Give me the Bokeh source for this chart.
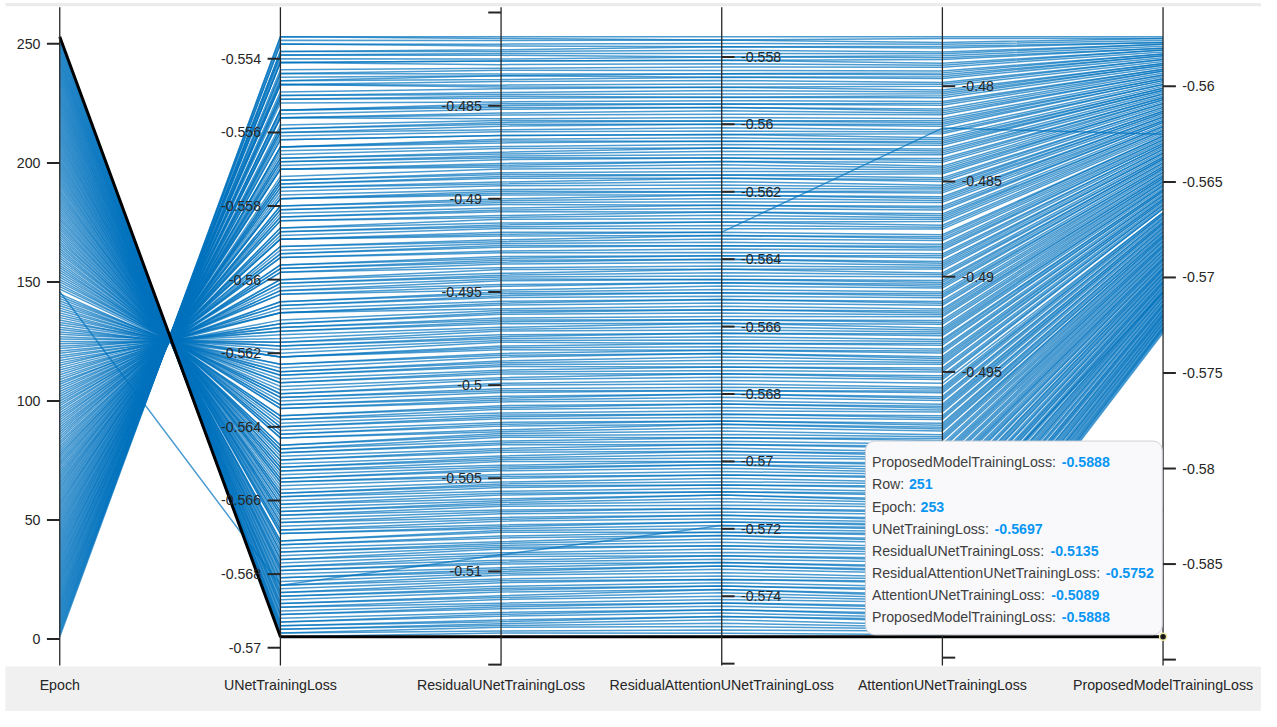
from bokeh.plotting import figure
from bokeh.models import Range1d
from bokeh.core.properties import value
from bokeh.embed import file_html
from bokeh.resources import INLINE

axis_names = ["Epoch", "UNetTrainingLoss", "ResidualUNetTrainingLoss",
              "ResidualAttentionUNetTrainingLoss", "AttentionUNetTrainingLoss",
              "ProposedModelTrainingLoss"]

epoch = list(range(1, 254))

unet_loss = [
    -0.5534, -0.5534, -0.5535, -0.5536, -0.5536, -0.5538, -0.5538, -0.5539, -0.5539, -0.5540,
    -0.5541, -0.5541, -0.5541, -0.5543, -0.5544, -0.5544, -0.5545, -0.5546, -0.5546, -0.5547,
    -0.5547, -0.5547, -0.5549, -0.5550, -0.5550, -0.5551, -0.5551, -0.5552, -0.5554, -0.5554,
    -0.5554, -0.5555, -0.5556, -0.5556, -0.5556, -0.5558, -0.5559, -0.5559, -0.5560, -0.5560,
    -0.5561, -0.5562, -0.5562, -0.5564, -0.5564, -0.5564, -0.5565, -0.5566, -0.5567, -0.5567,
    -0.5568, -0.5568, -0.5569, -0.5570, -0.5570, -0.5570, -0.5572, -0.5573, -0.5573, -0.5574,
    -0.5574, -0.5575, -0.5575, -0.5576, -0.5577, -0.5578, -0.5578, -0.5578, -0.5580, -0.5580,
    -0.5581, -0.5581, -0.5582, -0.5583, -0.5583, -0.5584, -0.5584, -0.5586, -0.5586, -0.5587,
    -0.5587, -0.5588, -0.5589, -0.5589, -0.5589, -0.5591, -0.5591, -0.5592, -0.5593, -0.5593,
    -0.5594, -0.5594, -0.5596, -0.5596, -0.5597, -0.5597, -0.5598, -0.5598, -0.5600, -0.5600,
    -0.5601, -0.5601, -0.5602, -0.5603, -0.5603, -0.5604, -0.5604, -0.5606, -0.5606, -0.5607,
    -0.5607, -0.5608, -0.5609, -0.5609, -0.5609, -0.5611, -0.5612, -0.5612, -0.5613, -0.5613,
    -0.5614, -0.5614, -0.5615, -0.5616, -0.5617, -0.5617, -0.5618, -0.5618, -0.5619, -0.5620,
    -0.5621, -0.5621, -0.5621, -0.5623, -0.5623, -0.5624, -0.5625, -0.5625, -0.5626, -0.5626,
    -0.5627, -0.5628, -0.5628, -0.5629, -0.5630, -0.5683, -0.5631, -0.5631, -0.5632, -0.5632,
    -0.5633, -0.5634, -0.5634, -0.5635, -0.5635, -0.5637, -0.5637, -0.5638, -0.5638, -0.5639,
    -0.5640, -0.5640, -0.5641, -0.5642, -0.5642, -0.5643, -0.5643, -0.5645, -0.5645, -0.5646,
    -0.5646, -0.5647, -0.5647, -0.5648, -0.5649, -0.5649, -0.5650, -0.5651, -0.5651, -0.5652,
    -0.5652, -0.5653, -0.5654, -0.5654, -0.5655, -0.5655, -0.5656, -0.5657, -0.5658, -0.5658,
    -0.5659, -0.5659, -0.5660, -0.5661, -0.5661, -0.5662, -0.5663, -0.5663, -0.5664, -0.5664,
    -0.5665, -0.5666, -0.5666, -0.5667, -0.5668, -0.5668, -0.5669, -0.5669, -0.5671, -0.5671,
    -0.5672, -0.5672, -0.5673, -0.5674, -0.5674, -0.5675, -0.5676, -0.5676, -0.5677, -0.5678,
    -0.5678, -0.5679, -0.5679, -0.5680, -0.5681, -0.5681, -0.5682, -0.5683, -0.5683, -0.5684,
    -0.5685, -0.5685, -0.5686, -0.5686, -0.5687, -0.5688, -0.5688, -0.5689, -0.5689, -0.5690,
    -0.5691, -0.5691, -0.5692, -0.5693, -0.5693, -0.5694, -0.5694, -0.5695, -0.5695, -0.5696,
    -0.5696, -0.5697, -0.5697,
]

resunet_loss = [
    -0.4813, -0.4814, -0.4815, -0.4817, -0.4818, -0.4820, -0.4821, -0.4822, -0.4823, -0.4825,
    -0.4826, -0.4826, -0.4828, -0.4830, -0.4831, -0.4833, -0.4834, -0.4834, -0.4836, -0.4837,
    -0.4839, -0.4840, -0.4841, -0.4843, -0.4844, -0.4845, -0.4846, -0.4848, -0.4849, -0.4850,
    -0.4851, -0.4852, -0.4854, -0.4855, -0.4857, -0.4858, -0.4859, -0.4860, -0.4861, -0.4863,
    -0.4864, -0.4866, -0.4866, -0.4868, -0.4869, -0.4870, -0.4872, -0.4873, -0.4875, -0.4876,
    -0.4877, -0.4878, -0.4879, -0.4881, -0.4882, -0.4883, -0.4884, -0.4886, -0.4887, -0.4888,
    -0.4889, -0.4891, -0.4892, -0.4893, -0.4895, -0.4896, -0.4897, -0.4898, -0.4900, -0.4901,
    -0.4902, -0.4903, -0.4905, -0.4906, -0.4907, -0.4909, -0.4910, -0.4911, -0.4913, -0.4914,
    -0.4915, -0.4916, -0.4918, -0.4919, -0.4920, -0.4922, -0.4923, -0.4924, -0.4925, -0.4926,
    -0.4928, -0.4929, -0.4931, -0.4932, -0.4933, -0.4934, -0.4935, -0.4937, -0.4938, -0.4940,
    -0.4941, -0.4942, -0.4943, -0.4944, -0.4946, -0.4947, -0.4949, -0.4950, -0.4951, -0.4952,
    -0.4953, -0.4955, -0.4956, -0.4957, -0.4959, -0.4960, -0.4961, -0.4962, -0.4964, -0.4965,
    -0.4966, -0.4967, -0.4969, -0.4970, -0.4971, -0.4973, -0.4974, -0.4975, -0.4976, -0.4977,
    -0.4979, -0.4980, -0.4981, -0.4983, -0.4984, -0.4985, -0.4987, -0.4988, -0.4989, -0.4990,
    -0.4992, -0.4993, -0.4994, -0.4996, -0.4997, -0.5091, -0.4999, -0.5000, -0.5002, -0.5003,
    -0.5004, -0.5006, -0.5007, -0.5008, -0.5009, -0.5011, -0.5012, -0.5013, -0.5015, -0.5016,
    -0.5017, -0.5018, -0.5020, -0.5021, -0.5022, -0.5024, -0.5025, -0.5026, -0.5027, -0.5028,
    -0.5030, -0.5031, -0.5032, -0.5034, -0.5035, -0.5036, -0.5038, -0.5039, -0.5040, -0.5041,
    -0.5043, -0.5044, -0.5045, -0.5046, -0.5048, -0.5049, -0.5050, -0.5052, -0.5053, -0.5054,
    -0.5055, -0.5057, -0.5058, -0.5059, -0.5061, -0.5062, -0.5063, -0.5064, -0.5065, -0.5067,
    -0.5068, -0.5069, -0.5071, -0.5072, -0.5073, -0.5075, -0.5076, -0.5077, -0.5078, -0.5079,
    -0.5081, -0.5082, -0.5084, -0.5085, -0.5086, -0.5087, -0.5088, -0.5090, -0.5091, -0.5092,
    -0.5094, -0.5095, -0.5096, -0.5098, -0.5099, -0.5100, -0.5101, -0.5102, -0.5104, -0.5105,
    -0.5106, -0.5108, -0.5109, -0.5110, -0.5111, -0.5113, -0.5114, -0.5115, -0.5117, -0.5118,
    -0.5119, -0.5120, -0.5122, -0.5123, -0.5124, -0.5126, -0.5127, -0.5128, -0.5129, -0.5130,
    -0.5132, -0.5133, -0.5135,
]

resattn_loss = [
    -0.5574, -0.5575, -0.5575, -0.5576, -0.5577, -0.5577, -0.5578, -0.5579, -0.5580, -0.5580,
    -0.5581, -0.5581, -0.5582, -0.5583, -0.5584, -0.5585, -0.5585, -0.5586, -0.5586, -0.5587,
    -0.5588, -0.5589, -0.5589, -0.5590, -0.5591, -0.5592, -0.5592, -0.5593, -0.5594, -0.5594,
    -0.5595, -0.5595, -0.5596, -0.5597, -0.5598, -0.5599, -0.5599, -0.5600, -0.5600, -0.5601,
    -0.5602, -0.5603, -0.5603, -0.5604, -0.5605, -0.5605, -0.5606, -0.5607, -0.5607, -0.5608,
    -0.5609, -0.5610, -0.5610, -0.5611, -0.5611, -0.5612, -0.5613, -0.5614, -0.5615, -0.5615,
    -0.5616, -0.5616, -0.5617, -0.5618, -0.5619, -0.5620, -0.5620, -0.5621, -0.5621, -0.5622,
    -0.5623, -0.5624, -0.5624, -0.5625, -0.5626, -0.5626, -0.5627, -0.5628, -0.5629, -0.5629,
    -0.5630, -0.5631, -0.5632, -0.5632, -0.5633, -0.5633, -0.5634, -0.5635, -0.5636, -0.5636,
    -0.5637, -0.5638, -0.5639, -0.5639, -0.5640, -0.5640, -0.5641, -0.5642, -0.5643, -0.5643,
    -0.5644, -0.5645, -0.5646, -0.5646, -0.5647, -0.5647, -0.5648, -0.5649, -0.5650, -0.5650,
    -0.5651, -0.5652, -0.5652, -0.5653, -0.5654, -0.5655, -0.5655, -0.5656, -0.5657, -0.5658,
    -0.5658, -0.5659, -0.5659, -0.5660, -0.5661, -0.5662, -0.5662, -0.5663, -0.5664, -0.5665,
    -0.5665, -0.5666, -0.5667, -0.5667, -0.5668, -0.5668, -0.5669, -0.5670, -0.5671, -0.5672,
    -0.5672, -0.5673, -0.5674, -0.5674, -0.5675, -0.5719, -0.5676, -0.5677, -0.5678, -0.5679,
    -0.5679, -0.5680, -0.5680, -0.5681, -0.5682, -0.5683, -0.5683, -0.5684, -0.5685, -0.5686,
    -0.5686, -0.5687, -0.5688, -0.5688, -0.5689, -0.5689, -0.5690, -0.5691, -0.5692, -0.5693,
    -0.5693, -0.5694, -0.5695, -0.5695, -0.5696, -0.5697, -0.5697, -0.5698, -0.5699, -0.5700,
    -0.5700, -0.5701, -0.5701, -0.5702, -0.5703, -0.5704, -0.5704, -0.5705, -0.5706, -0.5707,
    -0.5707, -0.5708, -0.5709, -0.5709, -0.5710, -0.5710, -0.5711, -0.5712, -0.5713, -0.5714,
    -0.5714, -0.5715, -0.5716, -0.5716, -0.5717, -0.5718, -0.5718, -0.5719, -0.5720, -0.5721,
    -0.5721, -0.5722, -0.5722, -0.5723, -0.5724, -0.5725, -0.5725, -0.5726, -0.5727, -0.5728,
    -0.5728, -0.5729, -0.5730, -0.5730, -0.5731, -0.5731, -0.5732, -0.5733, -0.5734, -0.5735,
    -0.5735, -0.5736, -0.5737, -0.5737, -0.5738, -0.5738, -0.5739, -0.5740, -0.5741, -0.5742,
    -0.5742, -0.5743, -0.5744, -0.5744, -0.5745, -0.5746, -0.5746, -0.5747, -0.5748, -0.5749,
    -0.5750, -0.5751, -0.5752,
]

attn_loss = [
    -0.4774, -0.4775, -0.4777, -0.4778, -0.4779, -0.4780, -0.4782, -0.4783, -0.4784, -0.4785,
    -0.4786, -0.4788, -0.4789, -0.4790, -0.4792, -0.4793, -0.4794, -0.4795, -0.4796, -0.4798,
    -0.4799, -0.4800, -0.4802, -0.4803, -0.4804, -0.4805, -0.4806, -0.4808, -0.4809, -0.4810,
    -0.4812, -0.4813, -0.4814, -0.4815, -0.4817, -0.4818, -0.4819, -0.4820, -0.4821, -0.4823,
    -0.4824, -0.4825, -0.4827, -0.4828, -0.4829, -0.4830, -0.4831, -0.4833, -0.4834, -0.4835,
    -0.4836, -0.4838, -0.4839, -0.4840, -0.4842, -0.4843, -0.4844, -0.4845, -0.4846, -0.4848,
    -0.4849, -0.4850, -0.4852, -0.4853, -0.4854, -0.4855, -0.4856, -0.4858, -0.4859, -0.4860,
    -0.4861, -0.4863, -0.4864, -0.4865, -0.4867, -0.4868, -0.4869, -0.4870, -0.4871, -0.4873,
    -0.4874, -0.4875, -0.4822, -0.4878, -0.4879, -0.4880, -0.4881, -0.4883, -0.4884, -0.4885,
    -0.4886, -0.4888, -0.4889, -0.4890, -0.4892, -0.4893, -0.4894, -0.4895, -0.4896, -0.4898,
    -0.4899, -0.4900, -0.4902, -0.4903, -0.4904, -0.4905, -0.4906, -0.4908, -0.4909, -0.4910,
    -0.4911, -0.4913, -0.4914, -0.4915, -0.4917, -0.4918, -0.4919, -0.4920, -0.4921, -0.4923,
    -0.4924, -0.4925, -0.4927, -0.4928, -0.4929, -0.4930, -0.4931, -0.4933, -0.4934, -0.4935,
    -0.4936, -0.4938, -0.4939, -0.4940, -0.4942, -0.4943, -0.4944, -0.4945, -0.4946, -0.4948,
    -0.4949, -0.4950, -0.4952, -0.4953, -0.4954, -0.5032, -0.4956, -0.4958, -0.4959, -0.4960,
    -0.4961, -0.4963, -0.4964, -0.4965, -0.4967, -0.4968, -0.4969, -0.4970, -0.4971, -0.4973,
    -0.4974, -0.4975, -0.4977, -0.4978, -0.4979, -0.4980, -0.4981, -0.4983, -0.4984, -0.4985,
    -0.4986, -0.4988, -0.4989, -0.4990, -0.4992, -0.4993, -0.4994, -0.4995, -0.4996, -0.4998,
    -0.4999, -0.5000, -0.5002, -0.5003, -0.5004, -0.5005, -0.5006, -0.5008, -0.5009, -0.5010,
    -0.5011, -0.5013, -0.5014, -0.5015, -0.5017, -0.5018, -0.5019, -0.5020, -0.5021, -0.5023,
    -0.5024, -0.5025, -0.5027, -0.5028, -0.5029, -0.5030, -0.5031, -0.5033, -0.5034, -0.5035,
    -0.5036, -0.5038, -0.5039, -0.5040, -0.5042, -0.5043, -0.5044, -0.5045, -0.5046, -0.5048,
    -0.5049, -0.5050, -0.5052, -0.5053, -0.5054, -0.5055, -0.5056, -0.5058, -0.5059, -0.5060,
    -0.5061, -0.5063, -0.5064, -0.5065, -0.5067, -0.5068, -0.5069, -0.5070, -0.5071, -0.5073,
    -0.5074, -0.5075, -0.5077, -0.5078, -0.5079, -0.5080, -0.5081, -0.5083, -0.5084, -0.5085,
    -0.5086, -0.5088, -0.5089,
]

proposed_loss = [
    -0.5574, -0.5575, -0.5575, -0.5576, -0.5577, -0.5577, -0.5578, -0.5578, -0.5579, -0.5580,
    -0.5580, -0.5581, -0.5581, -0.5582, -0.5583, -0.5583, -0.5584, -0.5584, -0.5585, -0.5586,
    -0.5586, -0.5587, -0.5588, -0.5588, -0.5589, -0.5589, -0.5590, -0.5591, -0.5591, -0.5592,
    -0.5592, -0.5593, -0.5594, -0.5594, -0.5595, -0.5596, -0.5596, -0.5597, -0.5597, -0.5598,
    -0.5599, -0.5599, -0.5600, -0.5601, -0.5601, -0.5602, -0.5602, -0.5603, -0.5604, -0.5604,
    -0.5605, -0.5606, -0.5606, -0.5607, -0.5607, -0.5608, -0.5609, -0.5609, -0.5610, -0.5611,
    -0.5611, -0.5612, -0.5613, -0.5613, -0.5614, -0.5614, -0.5615, -0.5616, -0.5616, -0.5617,
    -0.5618, -0.5618, -0.5619, -0.5619, -0.5620, -0.5621, -0.5621, -0.5622, -0.5623, -0.5623,
    -0.5624, -0.5625, -0.5625, -0.5626, -0.5626, -0.5627, -0.5628, -0.5628, -0.5629, -0.5630,
    -0.5630, -0.5631, -0.5631, -0.5632, -0.5633, -0.5633, -0.5634, -0.5635, -0.5635, -0.5636,
    -0.5637, -0.5637, -0.5638, -0.5638, -0.5639, -0.5640, -0.5640, -0.5641, -0.5642, -0.5642,
    -0.5643, -0.5643, -0.5644, -0.5645, -0.5645, -0.5646, -0.5647, -0.5647, -0.5648, -0.5648,
    -0.5649, -0.5650, -0.5650, -0.5651, -0.5652, -0.5652, -0.5653, -0.5654, -0.5654, -0.5655,
    -0.5655, -0.5656, -0.5657, -0.5657, -0.5658, -0.5659, -0.5659, -0.5660, -0.5660, -0.5661,
    -0.5662, -0.5662, -0.5663, -0.5664, -0.5664, -0.5708, -0.5666, -0.5666, -0.5667, -0.5667,
    -0.5668, -0.5669, -0.5669, -0.5670, -0.5671, -0.5671, -0.5672, -0.5672, -0.5673, -0.5674,
    -0.5674, -0.5675, -0.5676, -0.5676, -0.5677, -0.5678, -0.5678, -0.5679, -0.5679, -0.5680,
    -0.5681, -0.5681, -0.5682, -0.5683, -0.5683, -0.5684, -0.5684, -0.5685, -0.5686, -0.5686,
    -0.5687, -0.5688, -0.5688, -0.5689, -0.5690, -0.5690, -0.5691, -0.5691, -0.5692, -0.5693,
    -0.5693, -0.5694, -0.5695, -0.5695, -0.5696, -0.5696, -0.5697, -0.5698, -0.5698, -0.5699,
    -0.5700, -0.5700, -0.5701, -0.5702, -0.5702, -0.5703, -0.5703, -0.5704, -0.5705, -0.5705,
    -0.5706, -0.5707, -0.5707, -0.5708, -0.5708, -0.5709, -0.5710, -0.5710, -0.5711, -0.5712,
    -0.5712, -0.5713, -0.5714, -0.5714, -0.5715, -0.5715, -0.5716, -0.5717, -0.5717, -0.5718,
    -0.5719, -0.5719, -0.5720, -0.5720, -0.5721, -0.5722, -0.5722, -0.5723, -0.5724, -0.5724,
    -0.5725, -0.5726, -0.5726, -0.5727, -0.5727, -0.5728, -0.5729,
    -0.5800, -0.5822, -0.5841, -0.5857, -0.5872, -0.5888,
]

highlight_epoch = 253

# tick values and labels per axis
epoch_ticks = [250, 200, 150, 100, 50, 0]
epoch_tick_labels = ["250", "200", "150", "100", "50", "0"]
unet_ticks = [-0.554, -0.556, -0.558, -0.560, -0.562, -0.564, -0.566, -0.568, -0.570]
unet_tick_labels = ["-0.554", "-0.556", "-0.558", "-0.56", "-0.562", "-0.564", "-0.566", "-0.568", "-0.57"]
resunet_ticks = [-0.485, -0.490, -0.495, -0.500, -0.505, -0.510]
resunet_tick_labels = ["-0.485", "-0.49", "-0.495", "-0.5", "-0.505", "-0.51"]
resattn_ticks = [-0.558, -0.560, -0.562, -0.564, -0.566, -0.568, -0.570, -0.572, -0.574]
resattn_tick_labels = ["-0.558", "-0.56", "-0.562", "-0.564", "-0.566", "-0.568", "-0.57", "-0.572", "-0.574"]
attn_ticks = [-0.480, -0.485, -0.490, -0.495, -0.500, -0.505]
attn_tick_labels = ["-0.48", "-0.485", "-0.49", "-0.495", "-0.5", "-0.505"]
proposed_ticks = [-0.560, -0.565, -0.570, -0.575, -0.580, -0.585]
proposed_tick_labels = ["-0.56", "-0.565", "-0.57", "-0.575", "-0.58", "-0.585"]
# end ticks drawn without a label
epoch_end_ticks = []
unet_end_ticks = []
resunet_end_ticks = [-0.480, -0.515]
resattn_end_ticks = [-0.576]
attn_end_ticks = [-0.510]
proposed_end_ticks = [-0.590]

tip_labels = ["ProposedModelTrainingLoss:", "Row:", "Epoch:", "UNetTrainingLoss:",
              "ResidualUNetTrainingLoss:", "ResidualAttentionUNetTrainingLoss:",
              "AttentionUNetTrainingLoss:", "ProposedModelTrainingLoss:"]
tip_values = ["-0.5888", "251", "253", "-0.5697", "-0.5135", "-0.5752", "-0.5089", "-0.5888"]

# ---------------------------------------------------------------- layout
W, H = 1261, 711
REF_W, REF_H = 1277, 727               # reference picture size, mapped onto the canvas
AX0_PX, AX_STEP_PX = 60.0, 223.46      # axis spacing in reference pixels
N0_PX, N_SPAN_PX = 650.5, 613.5        # normalized 0..1 span in reference pixels
XS = W / REF_W                          # reference px -> canvas px


def sx(px):
    return (px - AX0_PX) / AX_STEP_PX


def sy(py):
    return (N0_PX - py) / N_SPAN_PX


columns = [epoch, unet_loss, resunet_loss, resattn_loss, attn_loss, proposed_loss]
n_rows = min(len(c) for c in columns)
lo = [min(c[:n_rows]) for c in columns]
hi = [max(c[:n_rows]) for c in columns]


def norm(k, v):
    return (v - lo[k]) / (hi[k] - lo[k])


p = figure(width=W, height=H, output_backend="svg", toolbar_location=None,
           x_range=Range1d(sx(0), sx(REF_W)),
           y_range=Range1d(sy(REF_H), sy(0)),
           x_axis_type=None, y_axis_type=None,
           min_border=0, min_border_left=0, min_border_right=0,
           min_border_top=0, min_border_bottom=0,
           outline_line_color=None, background_fill_color="white",
           border_fill_color="white")

FONT = value("Liberation Sans")
INK = "#262626"
FS = value("14.2px")

# top strip and bottom band with axis names
p.quad(left=[sx(5)], right=[sx(1400)], bottom=[sy(6)], top=[sy(2.5)],
       fill_color="#ececec", line_color=None)
p.quad(left=[sx(5)], right=[sx(1400)], bottom=[sy(800)], top=[sy(681)],
       fill_color="#f0f0f0", line_color=None)

# polylines
xs_all, ys_all = [], []
hl_y = None
for i in range(n_rows):
    ys = [norm(k, columns[k][i]) for k in range(6)]
    if epoch[i] == highlight_epoch:
        hl_y = ys
        continue
    xs_all.append(list(range(6)))
    ys_all.append(ys)

p.multi_line(xs=xs_all, ys=ys_all, line_color="#0072BD", line_alpha=0.7, line_width=1.5)
if hl_y is not None:
    p.line(x=list(range(6)), y=hl_y, line_color="black", line_width=3)

# axes
p.segment(x0=list(range(6)), y0=[sy(680)] * 6, x1=list(range(6)), y1=[sy(7)] * 6,
          line_color=INK, line_width=1.3)

tick_sets = [
    (epoch_ticks, epoch_tick_labels, epoch_end_ticks),
    (unet_ticks, unet_tick_labels, unet_end_ticks),
    (resunet_ticks, resunet_tick_labels, resunet_end_ticks),
    (resattn_ticks, resattn_tick_labels, resattn_end_ticks),
    (attn_ticks, attn_tick_labels, attn_end_ticks),
    (proposed_ticks, proposed_tick_labels, proposed_end_ticks),
]
TICK = 13.0 / AX_STEP_PX
GAP = 19.5 / AX_STEP_PX
for k, (tv, tl, te) in enumerate(tick_sets):
    side = -1 if k <= 2 else 1
    allt = list(tv) + list(te)
    ny = [norm(k, t) for t in allt]
    p.segment(x0=[k] * len(allt), y0=ny, x1=[k + side * TICK] * len(allt), y1=ny,
              line_color=INK, line_width=2)
    p.text(x=[k + side * GAP] * len(tv), y=[norm(k, t) for t in tv], text=tl,
           text_align="right" if side < 0 else "left", text_baseline="middle",
           text_font=FONT, text_font_size=FS, text_color=INK)

# axis names
p.text(x=list(range(6)), y=[sy(700)] * 6, text=axis_names, text_align="center",
       text_baseline="middle", text_font=FONT, text_font_size=FS, text_color=INK)

# data tip box
box_kw = dict(left=[sx(876)], right=[sx(1176.5)], top=[sy(450.5)], bottom=[sy(648.5)],
              fill_color="#f9f9fc", line_color="#cfd0d6", line_width=1)
try:
    p.quad(border_radius=9, **box_kw)
except Exception:
    p.quad(**box_kw)

row_py = [472.3 + 22.57 * i for i in range(len(tip_labels))]
value_px = [1074.7, 920.0, 931.7, 1006.7, 1063.3, 1119.3, 1064.0, 1074.7]
p.text(x=[sx(882.5)] * len(tip_labels), y=[sy(v) for v in row_py], text=tip_labels,
       text_align="left", text_baseline="middle", text_font=FONT,
       text_font_size=FS, text_color="#404040")
p.text(x=[sx(v) for v in value_px], y=[sy(v) for v in row_py], text=tip_values,
       text_align="left", text_baseline="middle", text_font=FONT,
       text_font_size=FS, text_font_style="bold", text_color="#0a96f2")

if hl_y is not None:
    p.scatter(x=[5], y=[hl_y[5]], size=7, fill_color="#1a1a1a", line_color="#efe9a8",
              line_width=1.5)

open("out.html", "w").write(file_html(p, INLINE))
